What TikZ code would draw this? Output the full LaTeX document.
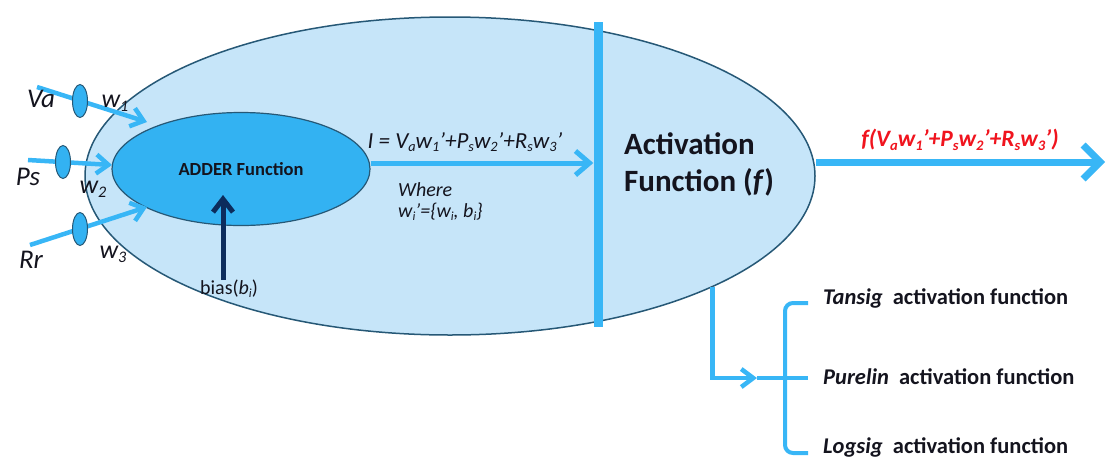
\documentclass[tikz,border=0pt]{standalone}
\usepackage{fontspec}
\setmainfont{Carlito}
\usetikzlibrary{arrows.meta,shapes.geometric}
\definecolor{lightfill}{RGB}{198,229,249}
\definecolor{adderfill}{RGB}{51,178,242}
\definecolor{lineblue}{RGB}{56,182,246}
\definecolor{edgecol}{RGB}{38,88,118}
\definecolor{navy}{RGB}{12,44,92}
\definecolor{redtxt}{RGB}{240,20,30}
\definecolor{txt}{RGB}{20,20,30}
\newcommand\dn[1]{\raisebox{-0.3ex}{\scalebox{0.62}{#1}}}
\begin{document}
\begin{tikzpicture}[x=1pt,y=-1pt,
  inline/.style={draw=lineblue, line width=4.5pt},
  inarr/.style={inline, -{Straight Barb[length=12pt,width=19pt]}},
  midarr/.style={draw=lineblue, line width=5pt, -{Straight Barb[length=14pt,width=24pt]}},
  bigarr/.style={draw=lineblue, line width=7pt, -{Straight Barb[length=17pt,width=34pt]}},
  brarr/.style={draw=lineblue, line width=4.5pt, -{Straight Barb[length=12pt,width=18pt]}},
  bracestyle/.style={draw=lineblue, line width=4pt},
  biasarr/.style={draw=navy, line width=5pt, -{Straight Barb[length=13pt,width=20pt]}},
  oval/.style={ellipse, draw=edgecol, line width=1pt, fill=adderfill, minimum width=15pt, minimum height=33pt, inner sep=0pt},
  lbl/.style={text=txt, inner sep=0pt},
]
\useasboundingbox (0,0) rectangle (1117,464);

% main ellipses
\node[ellipse, draw=edgecol, line width=1.5pt, fill=lightfill, minimum width=730pt, minimum height=318pt, inner sep=0pt] (outer) at (450,176) {};
\node[ellipse, draw=edgecol, line width=1.2pt, fill=adderfill, minimum width=258pt, minimum height=113pt, inner sep=0pt,
      text=txt, font=\fontsize{18.5}{20}\selectfont\bfseries] (adder) at (241,169) {\raisebox{-4pt}{ADDER Function}};
\node[fill=lineblue, minimum width=9pt, minimum height=305pt, inner sep=0pt] (bar) at (598,174.5) {};

% inputs
\coordinate (vaS) at (37,87);  \coordinate (vaT) at (147,122);
\coordinate (psS) at (28,160); \coordinate (psT) at (112,165);
\coordinate (rrS) at (30,245); \coordinate (rrT) at (147,207);
\draw[inarr] (vaS) -- (vaT);
\draw[inarr] (psS) -- (psT);
\draw[inarr] (rrS) -- (rrT);
\node[oval] (vaO) at (80,101) {};
\node[oval] (psO) at (63,162) {};
\node[oval] (rrO) at (80,229) {};

\node[lbl, font=\fontsize{27}{30}\selectfont\itshape] (vaL) at (41,99) {Va};
\node[lbl, font=\fontsize{27}{30}\selectfont\itshape] (psL) at (28,177) {Ps};
\node[lbl, font=\fontsize{27}{30}\selectfont\itshape] (rrL) at (31,260) {Rr};
\node[lbl, font=\fontsize{26}{30}\selectfont\itshape] (w1) at (115,103) {w\dn{1}};
\node[lbl, font=\fontsize{26}{30}\selectfont\itshape] (w2) at (93,189) {w\dn{2}};
\node[lbl, font=\fontsize{26}{30}\selectfont\itshape] (w3) at (113,254) {w\dn{3}};

% adder -> activation
\coordinate (iy) at (0,163);
\draw[midarr] (adder.east |- iy) -- (bar.west |- iy);
\node[lbl, font=\fontsize{23}{26}\selectfont\itshape] (eq) at (465,142) {I = V\dn{a}w\dn{1}'+P\dn{s}w\dn{2}'+R\dn{s}w\dn{3}'};
\node[lbl, anchor=west, font=\fontsize{20}{22}\selectfont\itshape] (where) at (398,190) {Where};
\node[lbl, anchor=west, font=\fontsize{20}{22}\selectfont\itshape] (wdef) at (398,212) {w\dn{i}'=\{w\dn{i}, b\dn{i}\}};

% bias
\node[lbl, font=\fontsize{20}{22}\selectfont] (biasL) at (229,289) {bias(\textit{b}\dn{\textit{i}})};
\coordinate (bT) at (223,195);
\draw[biasarr] (biasL.north -| bT) -- (bT);

% activation label
\node[lbl, anchor=west, align=left, font=\fontsize{31}{37}\selectfont\bfseries] (act) at (624,164) {Activation\\Function (\textit{f})};

% output
\coordinate (outT) at (1105,162);
\draw[bigarr] (outer.east |- outT) -- (outT);
\node[inner sep=0pt, text=redtxt, font=\fontsize{23.5}{26}\selectfont\bfseries\itshape] (outL) at (960,140) {f(V\dn{a}w\dn{1}'+P\dn{s}w\dn{2}'+R\dn{s}w\dn{3}')};

% activation function choices
\coordinate (ah) at (757,378);
\draw[brarr] (outer.-23.3) |- (ah);
\coordinate (brT) at (808,303);
\coordinate (brM) at (808,378);
\coordinate (brB) at (808,453);
\draw[bracestyle, rounded corners=8pt] (brT) -- (785,303) -- (785,453) -- (brB);
\draw[bracestyle] (ah) -- (brM);
\node[lbl, anchor=west, font=\fontsize{22.5}{26}\selectfont\bfseries] (tansig) at (823,298) {\textit{Tansig}\ \ activation function};
\node[lbl, anchor=west, font=\fontsize{22.5}{26}\selectfont\bfseries] (purelin) at (823,377) {\textit{Purelin}\ \ activation function};
\node[lbl, anchor=west, font=\fontsize{22.5}{26}\selectfont\bfseries] (logsig) at (823,447) {\textit{Logsig}\ \ activation function};
\end{tikzpicture}
\end{document}
